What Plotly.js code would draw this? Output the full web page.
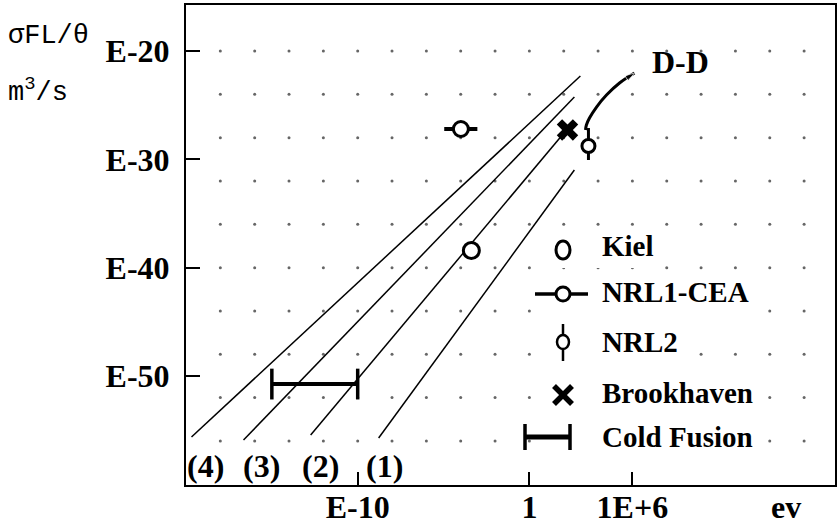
<!DOCTYPE html>
<html><head><meta charset="utf-8">
<script src="https://cdn.plot.ly/plotly-3.0.1.min.js"></script>
<style>html,body{margin:0;padding:0;background:#fff}#chart{width:838px;height:526px}</style>
</head><body><div id="chart"></div>
<script>
// ---- data (log10 values) ----
const energyTickVals = [1e-10, 1, 1e6];
const energyTickText = ['E-10', '1', '1E+6'];
const rateTickVals = [1e-20, 1e-30, 1e-40, 1e-50];
const rateTickText = ['E-20', 'E-30', 'E-40', 'E-50'];
const gridLogE = [-18, -16, -14, -12, -10, -8, -6, -4, -2, 0, 2, 4, 6, 8, 10, 12, 14, 16];
const gridLogRate = [-20, -24, -28, -32, -36, -40, -44, -48, -52, -56];

const curve1LogE = [-8.78, 2.62];   const curve1LogRate = [-55.73, -30.99];
const curve2LogE = [-12.74, 2.16];  const curve2LogRate = [-55.46, -27.29];
const curve3LogE = [-16.65, 2.62];  const curve3LogRate = [-55.92, -24.25];
const curve4LogE = [-19.68, 2.97];  const curve4LogRate = [-55.64, -22.31];
const curveLabels = ['(4)', '(3)', '(2)', '(1)'];

const ddLogE = [3.27, 3.32, 3.50, 3.91, 4.49, 5.25, 6.12];
const ddLogRate = [-27.29, -26.83, -26.19, -25.17, -24.06, -22.95, -22.03];

const kielLogE = [-3.38];      const kielLogRate = [-38.42];
const nrl1LogE = [-3.99];      const nrl1LogRate = [-27.2];
const nrl1LogELow = [-4.96];   const nrl1LogEHigh = [-3.03];
const nrl2LogE = [3.44];       const nrl2LogRate = [-28.77];
const nrl2LogRateLow = [-30.06]; const nrl2LogRateHigh = [-27.11];
const brookLogE = [2.22];      const brookLogRate = [-27.29];
const coldLogE = [-15, -10];   const coldLogRate = [-50.75, -50.75];

const legendLabels = ['Kiel', 'NRL1-CEA', 'NRL2', 'Brookhaven', 'Cold Fusion'];

// ---- helpers ----
const p10 = v => Math.pow(10, v);
const P = a => a.map(p10);
const ML = 186, MR = 3, MT = 5, MB = 41, W = 838, H = 526;
const PW = W - ML - MR, PH = H - MT - MB;
const px = x => (x - ML) / PW;
const py = y => 1 - (y - MT) / PH;

const gx = [], gy = [];
gridLogRate.forEach(r => gridLogE.forEach(e => { gx.push(p10(e)); gy.push(p10(r)); }));

const blk = '#000';
const traces = [
  {x: gx, y: gy, mode: 'markers', marker: {size: 3, color: '#666'}, hoverinfo: 'skip'},
  {x: P(curve1LogE), y: P(curve1LogRate), mode: 'lines', line: {color: blk, width: 1.5}},
  {x: P(curve2LogE), y: P(curve2LogRate), mode: 'lines', line: {color: blk, width: 1.5}},
  {x: P(curve3LogE), y: P(curve3LogRate), mode: 'lines', line: {color: blk, width: 1.5}},
  {x: P(curve4LogE), y: P(curve4LogRate), mode: 'lines', line: {color: blk, width: 1.5}},
  {x: P(ddLogE), y: P(ddLogRate), mode: 'lines+markers', line: {color: blk, width: 3, shape: 'spline'},
   marker: {symbol: 'arrow', angleref: 'previous', color: blk, size: ddLogE.map((v, i) => i === ddLogE.length - 1 ? 10 : 0)}},
  {x: P(kielLogE), y: P(kielLogRate), mode: 'markers',
   marker: {symbol: 'circle', size: 16, color: '#fff', line: {color: blk, width: 3}}},
  {x: P(nrl1LogE), y: P(nrl1LogRate), mode: 'markers',
   marker: {symbol: 'circle', size: 15, color: '#fff', line: {color: blk, width: 3}},
   error_x: {type: 'data', symmetric: false, array: nrl1LogE.map((c, i) => p10(nrl1LogEHigh[i]) - p10(c)),
     arrayminus: nrl1LogE.map((c, i) => p10(c) - p10(nrl1LogELow[i])), color: blk, thickness: 4, width: 0}},
  {x: P(nrl2LogE), y: P(nrl2LogRate), mode: 'markers',
   marker: {symbol: 'circle', size: 13, color: '#fff', line: {color: blk, width: 3}},
   error_y: {type: 'data', symmetric: false, array: nrl2LogRate.map((c, i) => p10(nrl2LogRateHigh[i]) - p10(c)),
     arrayminus: nrl2LogRate.map((c, i) => p10(c) - p10(nrl2LogRateLow[i])), color: blk, thickness: 3, width: 0}},
  {x: P(brookLogE), y: P(brookLogRate), mode: 'markers',
   marker: {symbol: 'x', size: 19, color: blk, line: {width: 0}}},
  {x: P(coldLogE), y: P(coldLogRate), mode: 'lines+markers', line: {color: blk, width: 4},
   marker: {symbol: 'line-ns-open', size: 22, color: blk, line: {color: blk, width: 3.5}}}
];

// ---- legend (drawn as shapes + text) ----
const legendRowY = [246, 292, 342, 393, 437];
const glyphX = 563, textX = 600;
const legFont = {family: 'Liberation Serif', size: 29, color: blk, weight: 'bold'};
const cv = document.createElement('canvas').getContext('2d');
cv.font = 'bold 29px "Liberation Serif"';
const shapes = [];
const annotations = [];
const ps = (cx, cy, o) => Object.assign({xref: 'paper', yref: 'paper', xsizemode: 'pixel', ysizemode: 'pixel',
  xanchor: px(cx), yanchor: py(cy), layer: 'above'}, o);
legendLabels.forEach((lab, i) => {
  const cy = legendRowY[i];
  const wTxt = cv.measureText(lab).width;
  shapes.push({type: 'rect', xref: 'paper', yref: 'paper', x0: px(545), x1: px(textX + wTxt + 2),
    y0: py(cy - 17), y1: py(cy + 22), fillcolor: '#fff', line: {width: 0}, layer: 'above'});
  annotations.push({xref: 'paper', yref: 'paper', x: px(textX), y: py(cy), xanchor: 'left', yanchor: 'middle',
    text: lab, showarrow: false, font: legFont});
});
const ln = (cx, cy, x0, y0, x1, y1, w) => ps(cx, cy, {type: 'line', x0, y0, x1, y1, line: {color: blk, width: w}});
const circ = (cx, cy, rx, ry, w) => ps(cx, cy, {type: 'circle', x0: -rx, x1: rx, y0: -ry, y1: ry, fillcolor: '#fff', line: {color: blk, width: w}});
// Kiel
shapes.push(circ(glyphX, legendRowY[0] + 4, 7, 9, 3));
// NRL1-CEA
shapes.push(ln(glyphX, legendRowY[1] + 2, -28, 0, 25, 0, 3.5));
shapes.push(circ(glyphX, legendRowY[1] + 2, 7, 7, 3));
// NRL2
shapes.push(ln(glyphX, legendRowY[2], 0, -19, 0, 18, 2.5));
shapes.push(circ(glyphX, legendRowY[2], 6, 7, 2.5));
// Brookhaven
shapes.push(ln(glyphX, legendRowY[3] + 2, -9, -9, 9, 9, 5.5));
shapes.push(ln(glyphX, legendRowY[3] + 2, -9, 9, 9, -9, 5.5));
// Cold Fusion
shapes.push(ln(glyphX, legendRowY[4], -38, 0, 7, 0, 5));
shapes.push(ln(glyphX, legendRowY[4], -38, -13, -38, 13, 3.5));
shapes.push(ln(glyphX, legendRowY[4], 7, -13, 7, 13, 3.5));

// ---- text labels ----
const bold = {family: 'Liberation Serif', size: 32, color: blk, weight: 'bold'};
annotations.push({xref: 'paper', yref: 'paper', x: px(6), y: py(36), xanchor: 'left', yanchor: 'middle',
  text: 'σFL/θ', showarrow: false, font: {family: 'Liberation Mono', size: 27, color: blk}});
annotations.push({xref: 'paper', yref: 'paper', x: px(6), y: py(90), xanchor: 'left', yanchor: 'middle',
  text: 'm<sup>3</sup>/s', showarrow: false, font: {family: 'Liberation Mono', size: 27, color: blk}});
annotations.push({xref: 'paper', yref: 'paper', x: px(786), y: py(507), xanchor: 'center', yanchor: 'middle',
  text: 'ev', showarrow: false, font: bold});
annotations.push({xref: 'x', yref: 'y', x: 7.0, y: -21.0, xanchor: 'left', yanchor: 'middle',
  text: 'D-D', showarrow: false, font: bold});
const curveLabelLogE = [-18.89, -15.63, -12.19, -8.45];
curveLabels.forEach((t, i) => annotations.push({xref: 'x', yref: 'y', x: curveLabelLogE[i], y: -58.3,
  xanchor: 'center', yanchor: 'middle', text: t, showarrow: false, font: {family: 'Liberation Serif', size: 32, color: blk, weight: 'bold'}}));

const axisCommon = {type: 'log', showline: true, mirror: true, linecolor: blk, linewidth: 2,
  showgrid: false, zeroline: false, ticks: 'inside', tickcolor: blk, tickwidth: 2, tickfont: bold};

const layout = {
  width: W, height: H, margin: {l: ML, r: MR, t: MT, b: MB}, showlegend: false,
  paper_bgcolor: '#fff', plot_bgcolor: '#fff',
  xaxis: Object.assign({}, axisCommon, {range: [-20, 17.8], tickvals: energyTickVals, ticktext: energyTickText,
    ticklen: 13, ticklabelstandoff: -7}),
  yaxis: Object.assign({}, axisCommon, {range: [-60.07, -15.75], tickvals: rateTickVals, ticktext: rateTickText,
    ticklen: 14, ticklabelstandoff: 8}),
  shapes, annotations
};
Plotly.newPlot('chart', traces, layout, {staticPlot: true});
</script></body></html>
